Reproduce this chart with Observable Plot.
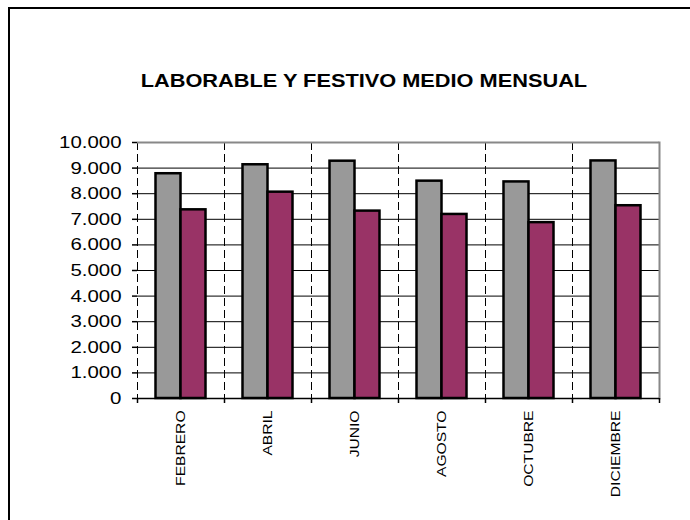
<!DOCTYPE html>
<html>
<head>
<meta charset="utf-8">
<script src="https://cdn.jsdelivr.net/npm/d3@7"></script>
<script src="https://cdn.jsdelivr.net/npm/@observablehq/plot@0.6"></script>
<style>
  html, body { margin: 0; padding: 0; background: #fff; }
  #wrap { position: relative; width: 690px; height: 520px; overflow: hidden; background: #fff; }
  #frame { position: absolute; left: 8px; top: 7px; width: 720px; height: 560px;
           border-left: 2px solid #000; border-top: 2px solid #000; pointer-events: none; }
  #title { height: 120px; box-sizing: border-box; padding-top: 69px; padding-left: 38px;
           text-align: center; font: bold 19px "Liberation Sans", Arial, sans-serif; line-height: 23px; color: #000; }
  #title span { display: inline-block; transform: scaleX(1.145); transform-origin: 50% 50%; }
  #chart svg { display: block; }
</style>
</head>
<body>
<div id="wrap">
  <div id="frame"></div>
  <div id="title"><span>LABORABLE Y FESTIVO MEDIO MENSUAL</span></div>
  <div id="chart"></div>
</div>
<script>
const months = ["FEBRERO", "ABRIL", "JUNIO", "AGOSTO", "OCTUBRE", "DICIEMBRE"];
const series = ["Laborable", "Festivo"];
const laborable = [8780, 9130, 9270, 8490, 8460, 9280];
const festivo = [7370, 8060, 7320, 7190, 6870, 7530];
const yTicks = [0, 1000, 2000, 3000, 4000, 5000, 6000, 7000, 8000, 9000, 10000];
const colors = ["#999999", "#993366"];

const data = months.flatMap((m, i) => [
  {month: m, series: series[0], value: laborable[i]},
  {month: m, series: series[1], value: festivo[i]}
]);

const W = 690, H = 400, ML = 137, MR = 31, MT = 22, MB = 122;
const step = (W - ML - MR) / months.length;
const fmt = d3.formatLocale({decimal: ",", thousands: ".", grouping: [3], currency: ["", ""]}).format(",");

const chart = Plot.plot({
  width: W, height: H,
  marginLeft: ML, marginRight: MR, marginTop: MT, marginBottom: MB,
  style: {fontFamily: "'Liberation Sans', Arial, sans-serif", background: "#fff", color: "#000", overflow: "visible"},
  fx: {domain: months, padding: 0, axis: null, label: null},
  x: {domain: series, paddingInner: 0, paddingOuter: 0.74, round: false, axis: null},
  y: {domain: [0, 10000], axis: null},
  color: {domain: series, range: colors},
  marks: [
    Plot.frame({anchor: "left", stroke: "#000", strokeWidth: 1, strokeDasharray: "7,5"}),
    Plot.ruleY(yTicks.filter(v => v > 0 && v < 10000), {stroke: "#000", strokeWidth: 1}),
    Plot.ruleY([10000], {stroke: "#888", strokeWidth: 2}),
    Plot.frame({anchor: "right", stroke: "#888", strokeWidth: 2, facetAnchor: "right"}),
    Plot.barY(data, {fx: "month", x: "series", y: "value", fill: "series", stroke: "#000", strokeWidth: 2.5}),
    Plot.axisY({ticks: yTicks, tickSize: 5, tickPadding: 11, tickFormat: fmt, label: null, fontSize: 17, line: true, strokeWidth: 1.5}),
    Plot.ruleY([0], {stroke: "#000", strokeWidth: 1.5}),
    Plot.axisFx({anchor: "bottom", tickSize: 0, tickPadding: 12, tickRotate: -90, label: null, fontSize: 13}),
    Plot.axisFx({anchor: "bottom", tickSize: 5, text: null, label: null, dx: -step / 2, strokeWidth: 1.5}),
    Plot.axisFx({anchor: "bottom", ticks: [months[months.length - 1]], tickSize: 5, text: null, label: null, dx: step / 2, strokeWidth: 1.5})
  ]
});
document.getElementById("chart").appendChild(chart);

// the reference's lettering is horizontally widened; widen the tick labels the same way
chart.querySelectorAll("text").forEach(t => {
  const len = t.getComputedTextLength();
  if (len > 0) {
    t.setAttribute("textLength", (len * 1.2).toFixed(1));
    t.setAttribute("lengthAdjust", "spacingAndGlyphs");
  }
});
</script>
</body>
</html>
